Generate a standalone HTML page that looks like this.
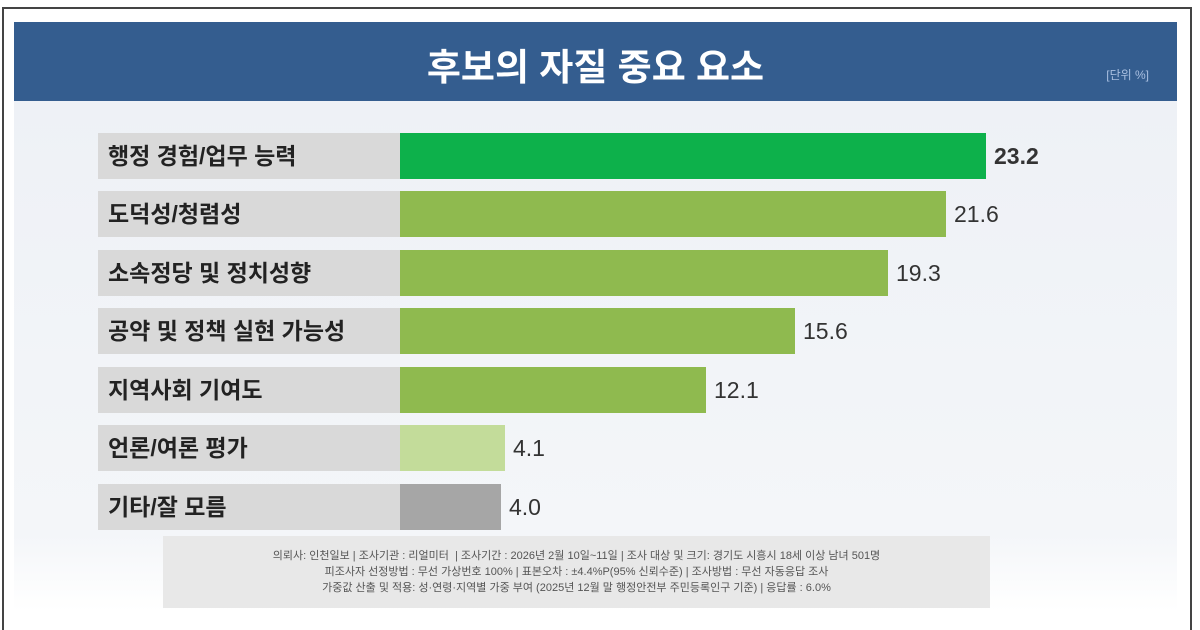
<!DOCTYPE html>
<html><head><meta charset="utf-8"><style>
html,body{margin:0;width:1200px;height:630px;overflow:hidden;}
body{background:#fff;position:relative;font-family:"Liberation Sans","Noto Sans CJK KR",sans-serif;}
.frame{position:absolute;left:2px;top:7px;width:1190px;height:623px;border:2px solid #444;border-bottom:none;box-sizing:border-box;}
.hdr{position:absolute;left:14px;top:22px;width:1163px;height:79px;background:#345d8f;}
.title{position:absolute;left:0;width:100%;top:15px;text-align:center;color:#fff;font-size:37px;font-weight:bold;}
.unit{position:absolute;right:28px;top:44px;color:#a9bfe0;font-size:12px;}
.bg{position:absolute;left:14px;top:101px;width:1163px;height:510px;background:linear-gradient(#eef1f6,#f4f6f9 85%,#fff);}
.lab{position:absolute;left:98px;width:302px;height:46px;background:#d9d9d9;font-size:23px;font-weight:bold;color:#222;line-height:46px;box-sizing:border-box;padding-left:10px;}
.bar{position:absolute;left:400px;height:46px;}
.val{position:absolute;font-size:23px;color:#333;line-height:46px;}
.foot{position:absolute;left:163px;top:536px;width:827px;height:72px;background:#e8e8e8;text-align:center;font-size:11px;color:#555;line-height:16px;padding-top:12px;box-sizing:border-box;}
</style></head><body>
<div class="bg"></div>
<div class="hdr"><div class="title">후보의 자질 중요 요소</div><div class="unit">[단위 %]</div></div>
<div class="lab" style="top:133px">행정 경험/업무 능력</div><div class="bar" style="top:133px;width:586px;background:#0db14b"></div><div class="val" style="top:133px;left:994px;font-weight:bold;color:#333">23.2</div>
<div class="lab" style="top:191px">도덕성/청렴성</div><div class="bar" style="top:191px;width:546px;background:#8fba4f"></div><div class="val" style="top:191px;left:954px">21.6</div>
<div class="lab" style="top:250px">소속정당 및 정치성향</div><div class="bar" style="top:250px;width:488px;background:#8fba4f"></div><div class="val" style="top:250px;left:896px">19.3</div>
<div class="lab" style="top:308px">공약 및 정책 실현 가능성</div><div class="bar" style="top:308px;width:395px;background:#8fba4f"></div><div class="val" style="top:308px;left:803px">15.6</div>
<div class="lab" style="top:367px">지역사회 기여도</div><div class="bar" style="top:367px;width:306px;background:#8fba4f"></div><div class="val" style="top:367px;left:714px">12.1</div>
<div class="lab" style="top:425px">언론/여론 평가</div><div class="bar" style="top:425px;width:105px;background:#c3dc9a"></div><div class="val" style="top:425px;left:513px">4.1</div>
<div class="lab" style="top:484px">기타/잘 모름</div><div class="bar" style="top:484px;width:101px;background:#a6a6a6"></div><div class="val" style="top:484px;left:509px">4.0</div>
<div class="foot">의뢰사: 인천일보 | 조사기관 : 리얼미터 &nbsp;| 조사기간 : 2026년 2월 10일~11일 | 조사 대상 및 크기: 경기도 시흥시 18세 이상 남녀 501명<br>피조사자 선정방법 : 무선 가상번호 100% | 표본오차 : ±4.4%P(95% 신뢰수준) | 조사방법 : 무선 자동응답 조사<br>가중값 산출 및 적용: 성·연령·지역별 가중 부여 (2025년 12월 말 행정안전부 주민등록인구 기준) | 응답률 : 6.0%</div>
<div class="frame"></div>
</body></html>
